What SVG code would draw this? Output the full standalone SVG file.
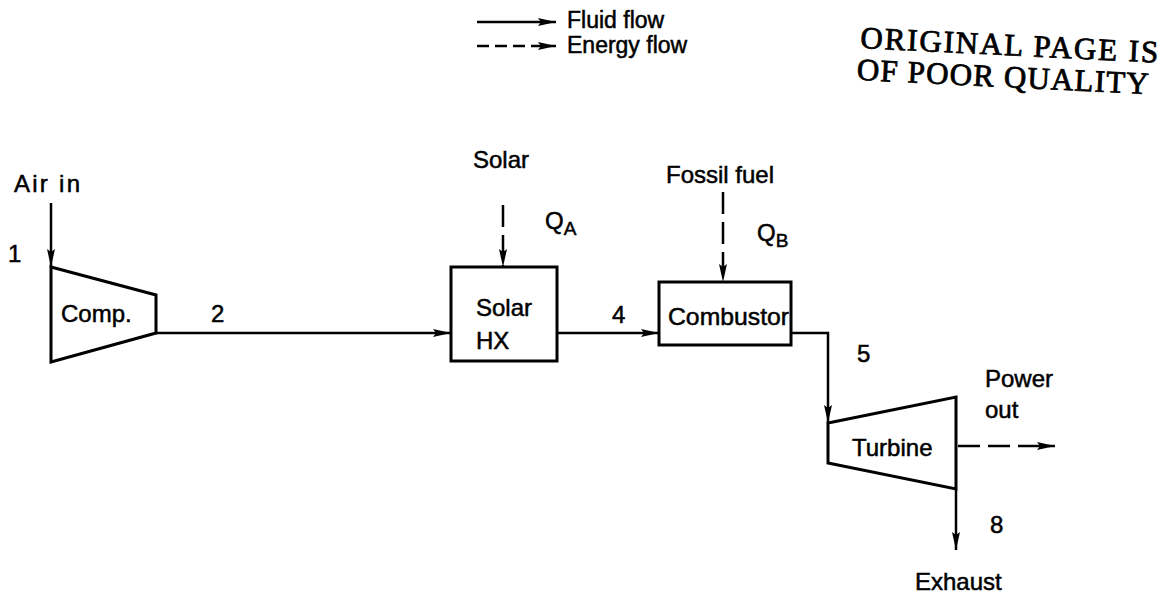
<svg xmlns="http://www.w3.org/2000/svg" width="1175" height="596" viewBox="0 0 1175 596">
<defs>
<marker id="ah" viewBox="0 0 18 9" refX="18" refY="4.5" markerWidth="18" markerHeight="9" markerUnits="userSpaceOnUse" orient="auto">
<path d="M0,0.5 L18,4.5 L0,8.5 L3,4.5 Z" fill="#000"/>
</marker>
</defs>
<style>
text{font-family:"Liberation Sans",Arial,sans-serif;font-size:24px;fill:#000;stroke:#000;stroke-width:0.5}
.stamp{font-family:"Liberation Serif","Times New Roman",serif;font-size:31px;stroke-width:0.8}
.sub{font-size:19px}
.shape{fill:#fff;stroke:#000;stroke-width:3}
.flow{fill:none;stroke:#000;stroke-width:2.5}
.energy{fill:none;stroke:#000;stroke-width:2.5;stroke-dasharray:22,8}
.legend-energy{fill:none;stroke:#000;stroke-width:2.5;stroke-dasharray:12,6}
</style>
<rect width="1175" height="596" fill="#fff"/>
<g id="legend">
<line class="flow" x1="477" y1="22" x2="556" y2="22" marker-end="url(#ah)"/>
<text x="567" y="28" style="font-size:23px">Fluid flow</text>
<line class="legend-energy" x1="477" y1="46" x2="556" y2="46" marker-end="url(#ah)"/>
<text x="567" y="53" style="font-size:23px">Energy flow</text>
</g>
<g id="stamp" transform="rotate(2.8 860 48)">
<text class="stamp" x="860" y="48" textLength="298" lengthAdjust="spacing">ORIGINAL PAGE IS</text>
<text class="stamp" x="858" y="80" textLength="292" lengthAdjust="spacing">OF POOR QUALITY</text>
</g>
<g id="connectors">
<line class="flow" x1="51" y1="203" x2="51" y2="267" marker-end="url(#ah)"/>
<line class="flow" x1="156" y1="333" x2="451" y2="333" marker-end="url(#ah)"/>
<line class="energy" x1="503" y1="205" x2="503" y2="267" marker-end="url(#ah)"/>
<line class="flow" x1="557" y1="333" x2="659" y2="333" marker-end="url(#ah)"/>
<line class="energy" x1="723" y1="192" x2="723" y2="282" marker-end="url(#ah)"/>
<polyline class="flow" points="791,333 828,333 828,423" marker-end="url(#ah)"/>
<line class="energy" x1="958" y1="446" x2="1055" y2="446" marker-end="url(#ah)"/>
<line class="flow" x1="956" y1="489" x2="956" y2="550" marker-end="url(#ah)"/>
</g>
<g id="compressor">
<polygon class="shape" points="51,267 156,295 156,333 51,362"/>
<text x="61" y="322">Comp.</text>
</g>
<g id="solar-hx">
<rect class="shape" x="451" y="267" width="106" height="94"/>
<text x="476" y="316">Solar</text>
<text x="476" y="349">HX</text>
</g>
<g id="combustor">
<rect class="shape" x="659" y="282" width="132" height="63"/>
<text x="668" y="325" textLength="121" lengthAdjust="spacingAndGlyphs">Combustor</text>
</g>
<g id="turbine">
<polygon class="shape" points="828,423 956,397 956,489 828,463"/>
<text x="852" y="456">Turbine</text>
</g>
<g id="labels">
<text x="14" y="192" textLength="66" lengthAdjust="spacing">Air in</text>
<text x="8" y="262">1</text>
<text x="211" y="322">2</text>
<text x="473" y="168">Solar</text>
<text x="545" y="229">Q<tspan class="sub" dy="6">A</tspan></text>
<text x="612" y="323">4</text>
<text x="666" y="183">Fossil fuel</text>
<text x="757" y="241">Q<tspan class="sub" dy="6">B</tspan></text>
<text x="857" y="362">5</text>
<text x="985" y="387">Power</text>
<text x="985" y="418">out</text>
<text x="990" y="533">8</text>
<text x="915" y="590">Exhaust</text>
</g>
</svg>
